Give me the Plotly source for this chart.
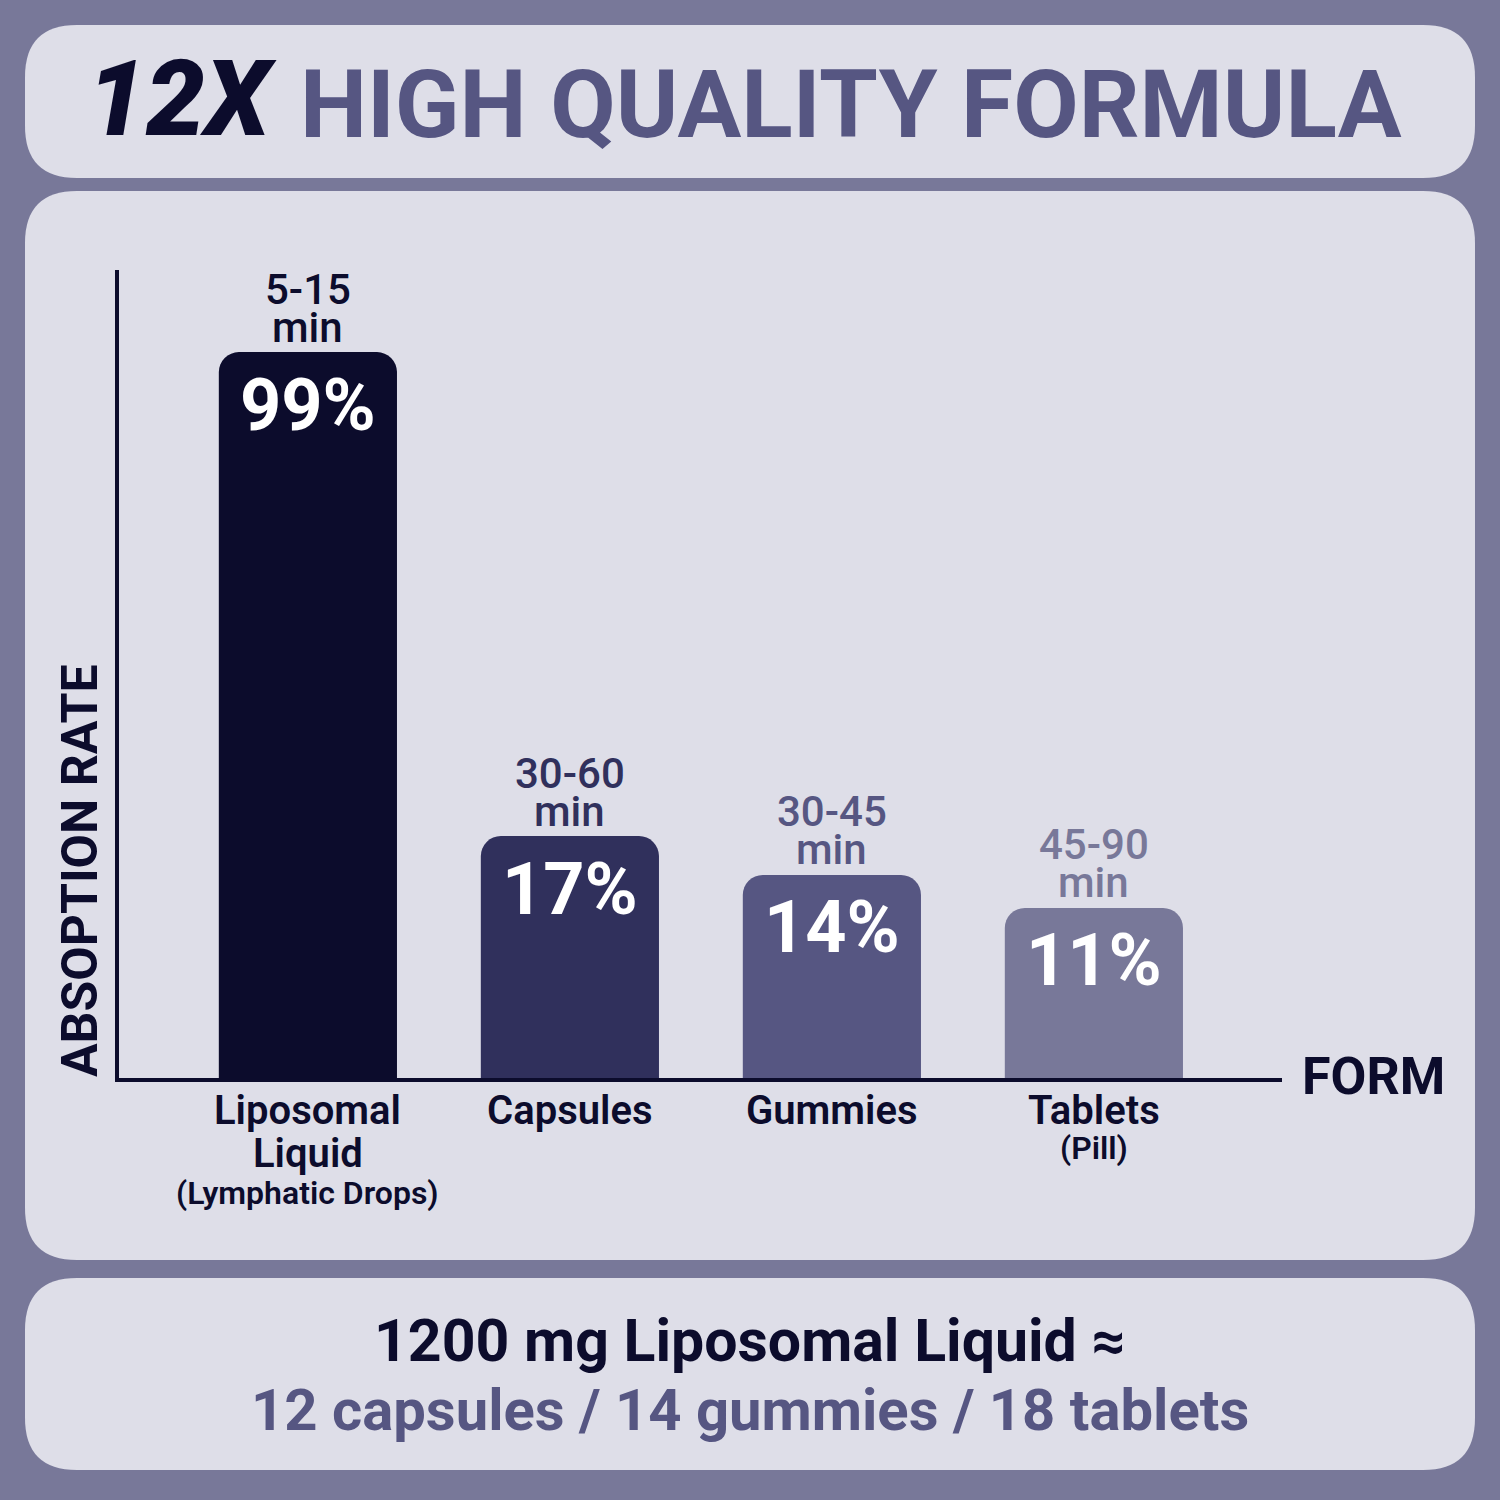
import plotly.graph_objects as go

# chart data
forms = ["Liposomal", "Capsules", "Gummies", "Tablets"]
form_line2 = ["Liquid", "", "", ""]
form_notes = ["(Lymphatic Drops)", "", "", "(Pill)"]
absorption = [99, 17, 14, 11]              # printed labels (%)
bar_height = [99, 33, 27.7, 23.2]          # drawn height of each bar (same axis units)
time_range = ["5-15", "30-60", "30-45", "45-90"]
bar_colors = ["#0c0c2c", "#30305c", "#565682", "#787899"]

BG = "#787899"
PANEL = "#dedee8"
DARK = "#0c0c2c"
MID = "#565682"
W = H = 1500


def rounded_box(x0, y0, x1, y1, r):
    # pixel coords (top-left origin) -> paper path
    def p(x, y):
        return f"{x / W:.5f},{1 - y / H:.5f}"
    return (f"M {p(x0 + r, y0)} L {p(x1 - r, y0)} Q {p(x1, y0)} {p(x1, y0 + r)} "
            f"L {p(x1, y1 - r)} Q {p(x1, y1)} {p(x1 - r, y1)} "
            f"L {p(x0 + r, y1)} Q {p(x0, y1)} {p(x0, y1 - r)} "
            f"L {p(x0, y0 + r)} Q {p(x0, y0)} {p(x0 + r, y0)} Z")


x = list(range(len(forms)))

fig = go.Figure()
fig.add_trace(go.Bar(
    x=x, y=bar_height, width=0.68,
    marker=dict(color=bar_colors, cornerradius=20, line=dict(width=0)),
    hoverinfo="skip",
))

shapes = []
for box in [(25, 25, 1475, 178), (25, 191, 1475, 1260), (25, 1278, 1475, 1470)]:
    shapes.append(dict(type="path", xref="paper", yref="paper",
                       path=rounded_box(*box, 52), fillcolor=PANEL,
                       line=dict(width=0), layer="below"))

ann = []
for i in x:
    col = bar_colors[i]
    # tight two-line time label: fixed box height keeps the lines close
    ann.append(dict(x=i, y=bar_height[i], text=time_range[i], yshift=63, height=37,
                    font=dict(family="Roboto", size=42, color=col, weight=500)))
    ann.append(dict(x=i, y=bar_height[i], text="min", yshift=25, height=37,
                    font=dict(family="Roboto", size=42, color=col, weight=500)))
    ann.append(dict(x=i, y=bar_height[i], text=f"{absorption[i]}%", yshift=-53,
                    font=dict(family="Roboto", size=72, color="white", weight=700)))
    ann.append(dict(x=i, y=1 - 1110 / H, yref="paper", text=forms[i],
                    font=dict(family="Roboto", size=40, color=DARK, weight=600)))
    if form_line2[i]:
        ann.append(dict(x=i, y=1 - 1153 / H, yref="paper", text=form_line2[i],
                        font=dict(family="Roboto", size=40, color=DARK, weight=600)))
    if form_notes[i]:
        ny = 1193 if form_line2[i] else 1148
        ann.append(dict(x=i, y=1 - ny / H, yref="paper", text=form_notes[i],
                        font=dict(family="Roboto", size=32, color=DARK, weight=600)))

for a in ann:
    a.update(showarrow=False, yanchor="middle", xref="x", yref=a.get("yref", "y"))

ann += [
    dict(x=279 / W, y=1 - 100 / H, xref="paper", yref="paper", xanchor="right",
         yanchor="middle", showarrow=False, text="<i>12X</i>",
         font=dict(family="Roboto", size=105, color=DARK, weight=900, style="italic")),
    dict(x=298 / W, y=1 - 104 / H, xref="paper", yref="paper", xanchor="left",
         yanchor="middle", showarrow=False, text="HIGH QUALITY FORMULA",
         font=dict(family="Roboto", size=95, color=MID, weight=700)),
    dict(x=1300 / W, y=1 - 1076 / H, xref="paper", yref="paper", xanchor="left",
         yanchor="middle", showarrow=False, text="FORM",
         font=dict(family="Roboto", size=52, color=DARK, weight=700)),
    dict(x=80 / W, y=1 - 871 / H, xref="paper", yref="paper", xanchor="center",
         yanchor="middle", showarrow=False, text="ABSOPTION RATE", textangle=-90,
         font=dict(family="Roboto", size=50, color=DARK, weight=700)),
    dict(x=0.5, y=1 - 1340 / H, xref="paper", yref="paper", yanchor="middle",
         showarrow=False, text="1200 mg Liposomal Liquid ≈",
         font=dict(family="Roboto", size=59, color=DARK, weight=700)),
    dict(x=0.5, y=1 - 1410 / H, xref="paper", yref="paper", yanchor="middle",
         showarrow=False, text="12 capsules / 14 gummies / 18 tablets",
         font=dict(family="Roboto", size=58, color=MID, weight=700)),
]

fig.update_layout(
    width=W, height=H, autosize=False,
    margin=dict(l=0, r=0, t=0, b=0),
    paper_bgcolor=BG, plot_bgcolor="rgba(0,0,0,0)",
    showlegend=False, shapes=shapes, annotations=ann,
    xaxis=dict(domain=[119 / W, 1282 / W], range=[-0.721, 3.718],
               showline=True, linewidth=4, linecolor=DARK,
               showgrid=False, zeroline=False, showticklabels=False, ticks=""),
    yaxis=dict(domain=[1 - 1078 / H, 1 - 270 / H], range=[0, 110.2],
               showline=True, linewidth=4, linecolor=DARK,
               showgrid=False, zeroline=False, showticklabels=False, ticks=""),
)

# drop the default page margin so the figure sits at the window's corner
fig.write_html("out.html", config={"displayModeBar": False},
               post_script="document.body.style.margin='0';")
